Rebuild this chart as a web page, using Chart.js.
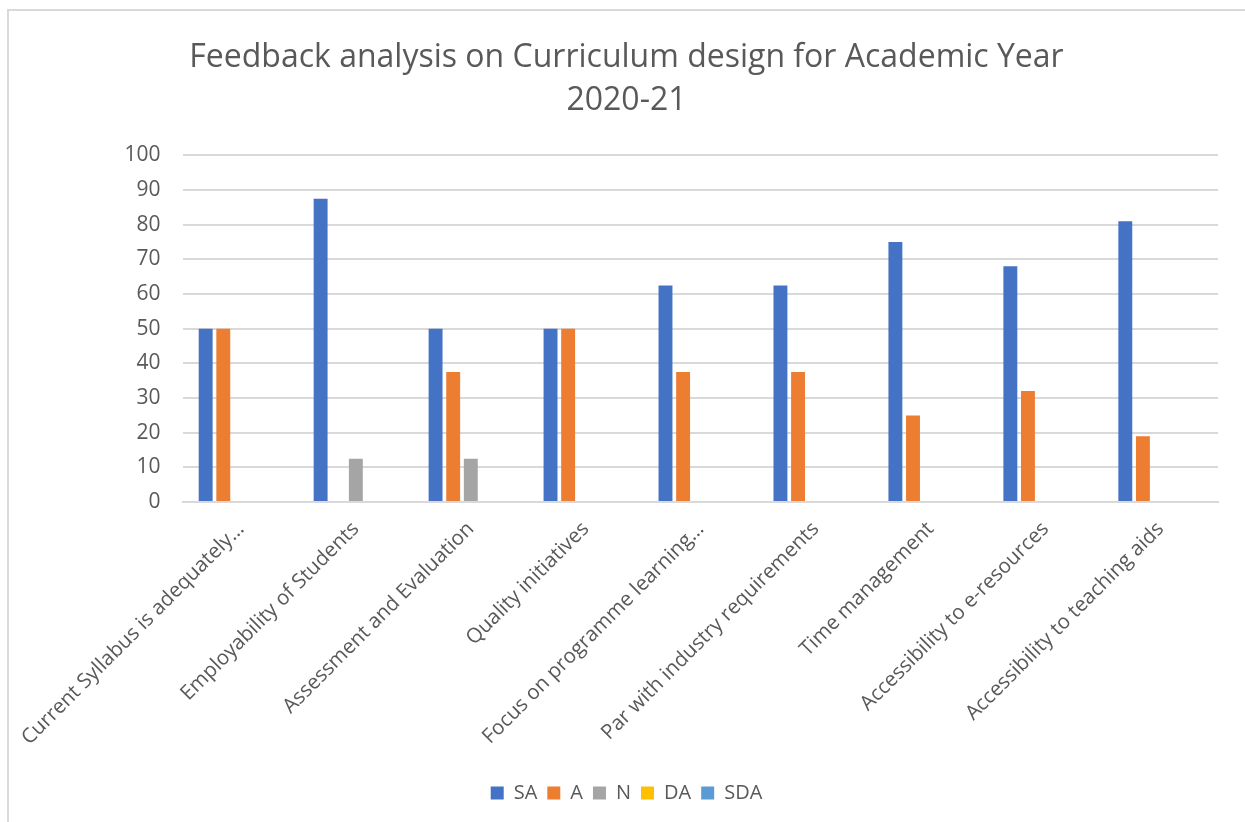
<!DOCTYPE html>
<html>
<head>
<meta charset="utf-8">
<script src="https://cdn.jsdelivr.net/npm/chart.js@4.4.1/dist/chart.umd.min.js"></script>
<style>
  html, body { margin: 0; padding: 0; background: #fff; overflow: hidden; }
  #frame { position: absolute; left: 7px; top: 9px; width: 1250px; height: 830px; border-left: 2px solid #d9d9d9; border-top: 2px solid #d9d9d9; }
  #wrap { position: absolute; left: 0; top: 0; width: 1242px; height: 812px; }
</style>
</head>
<body>
<div id="frame"><div id="wrap"><canvas id="c"></canvas></div></div>
<script>
// Categorías y series (valores en %)
const categories = [
  'Current Syllabus is adequately\u2026',
  'Employability of Students',
  'Assessment and Evaluation',
  'Quality initiatives',
  'Focus on programme learning\u2026',
  'Par with industry requirements',
  'Time management',
  'Accessibility to e-resources',
  'Accessibility to teaching aids'
];
const SA  = [50, 87.5, 50, 50, 62.5, 62.5, 75, 68, 81];
const A   = [50, 0, 37.5, 50, 37.5, 37.5, 25, 32, 19];
const N   = [0, 12.5, 12.5, 0, 0, 0, 0, 0, 0];
const DA  = [0, 0, 0, 0, 0, 0, 0, 0, 0];
const SDA = [0, 0, 0, 0, 0, 0, 0, 0, 0];
const yTicks = [0, 10, 20, 30, 40, 50, 60, 70, 80, 90, 100];

const FONT = 'Open Sans';
const GREY = '#595959';

const ds = (label, data, color) => ({
  label, data, backgroundColor: color, borderWidth: 0,
  barPercentage: 0.79, categoryPercentage: 0.766
});

new Chart(document.getElementById('c'), {
  type: 'bar',
  data: {
    labels: categories,
    datasets: [
      ds('SA', SA, '#4472C4'),
      ds('A', A, '#ED7D31'),
      ds('N', N, '#A5A5A5'),
      ds('DA', DA, '#FFC000'),
      ds('SDA', SDA, '#5B9BD5')
    ]
  },
  options: {
    responsive: true, maintainAspectRatio: false, animation: false,
    layout: { padding: { left: 26, right: 33, top: 25, bottom: 10 } },
    plugins: {
      title: {
        display: true,
        text: ['Feedback analysis on Curriculum design for Academic Year', '2020-21'],
        color: GREY, font: { family: FONT, size: 32, weight: 'normal', lineHeight: 1.35 },
        padding: { top: 0, bottom: 33 }
      },
      legend: {
        position: 'bottom',
        labels: { color: GREY, font: { family: FONT, size: 20 }, boxWidth: 13, boxHeight: 13, padding: 10 }
      },
      tooltip: { enabled: false }
    },
    scales: {
      x: {
        grid: { display: false },
        border: { color: '#d9d9d9', width: 2 },
        ticks: { color: GREY, font: { family: FONT, size: 20.5 }, minRotation: 45, maxRotation: 45, padding: 7 },
        afterFit: sc => { sc.height += 16; }
      },
      y: {
        min: 0, max: 100,
        afterBuildTicks: ax => { ax.ticks = yTicks.map(v => ({ value: v })); },
        afterFit: sc => { sc.width = 142; },
        grid: { color: '#d9d9d9', lineWidth: 2, drawTicks: false },
        border: { display: false },
        ticks: { color: GREY, font: { family: FONT, size: 21 }, padding: 23 }
      }
    }
  }
});
</script>
</body>
</html>
